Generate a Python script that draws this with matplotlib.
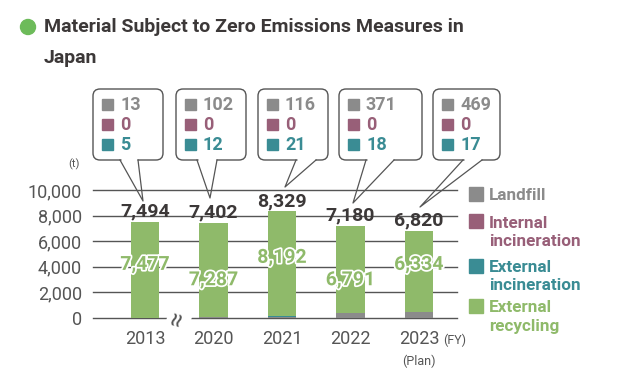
import matplotlib
matplotlib.use('Agg')
import matplotlib.pyplot as plt
import matplotlib.patheffects as pe
from matplotlib.patches import FancyBboxPatch, Rectangle, Circle

plt.rcParams['font.family'] = ['Roboto', 'DejaVu Sans']

years = ['2013', '2020', '2021', '2022', '2023']
landfill = [13, 102, 116, 371, 469]
internal_incineration = [0, 0, 0, 0, 0]
external_incineration = [5, 12, 21, 18, 17]
external_recycling = [7477, 7287, 8192, 6791, 6334]
totals = [7494, 7402, 8329, 7180, 6820]
yticks = [0, 2000, 4000, 6000, 8000, 10000]

series_names = [['Landfill'], ['Internal', 'incineration'], ['External', 'incineration'], ['External', 'recycling']]
colors = ['#8b8b8b', '#985f78', '#3a8c94', '#8fba6a']
dark = '#3c3838'
tick_gray = '#555555'

# layout only (px, origin top-left)
inner_label_y = [4150, 2950, 4700, 2950, 4150]
boxes = [(93, 163), (176, 246), (258, 328), (339, 422), (433, 500)]
bases = [(120, 138), (197, 217), (296, 316), (366, 394), (463, 482)]
tips = [(143, 201), (210, 198), (285, 187), (353, 203), (420, 207)]

W, H = 617, 376
fig = plt.figure(figsize=(W / 100, H / 100), dpi=100)
ax = fig.add_axes([93 / W, 1 - 318 / H, (457 - 93) / W, 128 / H])
x = list(range(len(years)))
bw = 0.41

bottom = [0] * len(years)
for vals, c in zip([landfill, internal_incineration, external_incineration, external_recycling], colors):
    ax.bar(x, vals, bw, bottom=bottom, color=c, zorder=3)
    bottom = [b + v for b, v in zip(bottom, vals)]

ax.set_xlim(-0.76, 4.555)
ax.set_ylim(0, 10000)
ax.set_yticks(yticks)
ax.set_yticklabels([f'{v:,}' for v in yticks], fontsize=13, color=tick_gray)
ax.set_xticks(x)
ax.set_xticklabels(years, fontsize=13, color=tick_gray)
ax.tick_params(axis='y', length=0, pad=8)
ax.tick_params(axis='x', length=0, pad=9)
for s in ax.spines.values():
    s.set_visible(False)
for v in yticks:
    ax.axhline(v, color='#555555', lw=1, zorder=1, clip_on=False)

for i, t in enumerate(totals):
    ax.annotate(f'{t:,}', (i, t), xytext=(0, 1), textcoords='offset points',
                ha='center', va='bottom', fontsize=14, fontweight='bold', color=dark, zorder=5)
for i, v in enumerate(external_recycling):
    ax.text(i, inner_label_y[i], f'{v:,}', ha='center', va='center', fontsize=14,
            fontweight='bold', color=colors[3], zorder=5,
            path_effects=[pe.withStroke(linewidth=2.5, foreground='white')])

# overlay in pixel coordinates for annotations
ov = fig.add_axes([0, 0, 1, 1], zorder=10)
ov.set_xlim(0, W)
ov.set_ylim(H, 0)
ov.axis('off')
ov.patch.set_alpha(0)

ov.add_patch(Circle((28, 27), 7.5, color='#6dbb5a'))
ov.text(44, 27, 'Material Subject to Zero Emissions Measures in', fontsize=14,
        fontweight='bold', color=dark, va='center')
ov.text(44, 58, 'Japan', fontsize=14, fontweight='bold', color=dark, va='center')

ov.text(74, 164, '(t)', fontsize=8, color=tick_gray, ha='center', va='center')
ov.text(443, 340, '(FY)', fontsize=9, color=tick_gray, ha='left', va='center')
ov.text(419, 361, '(Plan)', fontsize=9, color=tick_gray, ha='center', va='center')
ov.text(179, 319, '≈', fontsize=19, color=tick_gray, ha='center', va='center', rotation=75,
        bbox=dict(boxstyle='square,pad=0.0', fc='white', ec='none'))

box_vals = [landfill, internal_incineration, external_incineration]
for i, ((x0, x1), (b0, b1), (tx, ty)) in enumerate(zip(boxes, bases, tips)):
    ov.add_patch(FancyBboxPatch((x0, 89), x1 - x0, 71, boxstyle='round,pad=0,rounding_size=7',
                                fc='white', ec='#555555', lw=1))
    ov.plot([b0 + 1, b1 - 1], [160, 160], color='white', lw=2.5, solid_capstyle='butt')
    ov.plot([b0, tx, b1], [160, ty, 160], color='#555555', lw=0.9)
    for r, (vals, c) in enumerate(zip(box_vals, colors[:3])):
        yy = 105 + r * 20
        ov.add_patch(Rectangle((x0 + 9, yy - 6), 11, 11, color=c))
        ov.text(x0 + 27, yy, f'{vals[i]:,}', fontsize=13, fontweight='bold', color=c,
                va='center', ha='left')

legend_sq = [194, 221, 266, 306]
legend_y = [[195], [223, 242], [267, 286], [307, 327]]
for lines, c, sy, lys in zip(series_names, colors, legend_sq, legend_y):
    ov.add_patch(Rectangle((469, sy - 7), 14, 14, color=c))
    for line, ly in zip(lines, lys):
        ov.text(489, ly, line, fontsize=12.3, fontweight='bold', color=c, va='center', ha='left')

fig.savefig('out.png', dpi=100)
